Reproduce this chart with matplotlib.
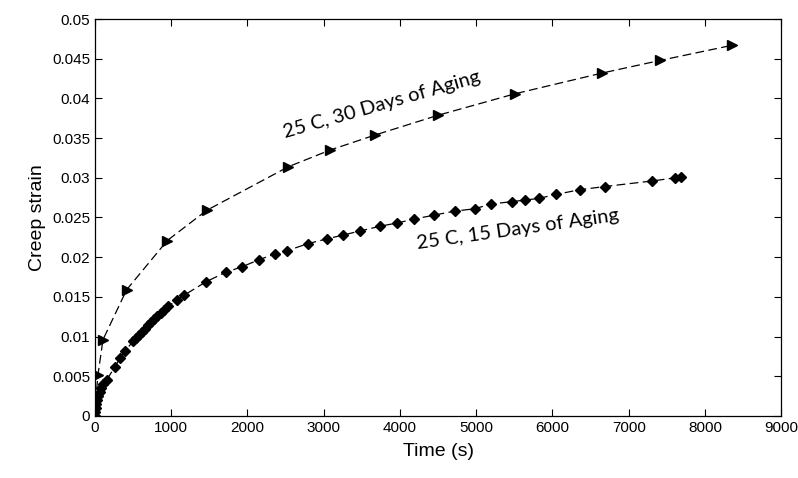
import numpy as np
import matplotlib.pyplot as plt

# 25 C, 30 days of aging (triangles)
t30 = [0, 10, 40, 105, 416, 949, 1465, 2537, 3084, 3675, 4505, 5512, 6649, 7415, 8355]
e30 = [0.0, 0.002, 0.0052, 0.0096, 0.0159, 0.0221, 0.0259, 0.0314, 0.0335, 0.0354,
       0.0379, 0.0406, 0.0432, 0.0448, 0.0467]

# 25 C, 15 days of aging (diamonds)
t15 = [0, 5, 10, 20, 30, 45, 60, 80, 110, 153, 262, 328, 394, 503,
       540, 580, 620, 660, 700, 740, 780, 820, 860, 900, 962, 1072, 1168,
       1457, 1715, 1933, 2156, 2362, 2515, 2791, 3040, 3259, 3478, 3740,
       3959, 4186, 4449, 4716, 4978, 5197, 5468, 5643, 5818, 6046, 6356,
       6684, 7305, 7612, 7680]
e15 = [0.0, 0.0005, 0.001, 0.0015, 0.002, 0.0025, 0.003, 0.0035, 0.004, 0.0045,
       0.0062, 0.0073, 0.0082, 0.0094,
       0.0098, 0.0102, 0.0106, 0.0110, 0.0114, 0.0118, 0.0122, 0.0126, 0.0130,
       0.0133, 0.0138, 0.0146, 0.0152,
       0.0169, 0.0181, 0.0188, 0.0197, 0.0204, 0.0208, 0.0217, 0.0223, 0.0228,
       0.0233, 0.0239, 0.0243, 0.0248, 0.0253, 0.0258, 0.0261, 0.0267, 0.0270,
       0.0272, 0.0274, 0.0279, 0.0285, 0.0289, 0.0296, 0.0300, 0.0301]

xticks = np.arange(0, 9001, 1000)
yticks = [0, 0.005, 0.01, 0.015, 0.02, 0.025, 0.03, 0.035, 0.04, 0.045, 0.05]
ytick_labels = ['0', '0.005', '0.01', '0.015', '0.02', '0.025', '0.03', '0.035', '0.04', '0.045', '0.05']

plt.rcParams['font.family'] = ['Liberation Sans Narrow', 'Liberation Sans', 'DejaVu Sans']

fig = plt.figure(figsize=(7.98, 4.78), dpi=100)
ax = fig.add_axes([0.119, 0.13, 0.86, 0.83])

ax.plot(t30, e30, color='black', linestyle=(0, (7, 3.5)), linewidth=0.9,
        marker='>', markersize=7)
ax.plot(t15, e15, color='black', linestyle=(0, (7, 3.5)), linewidth=0.9,
        marker='D', markersize=5)

ax.set_xlim(0, 9000)
ax.set_ylim(0, 0.05)
ax.set_xticks(xticks)
ax.set_yticks(yticks)
ax.set_yticklabels(ytick_labels)
ax.tick_params(direction='in', top=True, right=True, labelsize=11, length=5)
for s in ax.spines.values():
    s.set_linewidth(0.9)

ax.set_xlabel('Time (s)', fontsize=14, labelpad=6)
ax.set_ylabel('Creep strain', fontsize=14, labelpad=4)

ax.text(3760, 0.0392, '25 C, 30 Days of Aging', rotation=16, fontsize=14.5,
        ha='center', va='center', family=['Lato', 'DejaVu Sans'])
ax.text(5540, 0.0235, '25 C, 15 Days of Aging', rotation=8, fontsize=14.5,
        ha='center', va='center', family=['Lato', 'DejaVu Sans'])

fig.savefig('out.png', dpi=100)
